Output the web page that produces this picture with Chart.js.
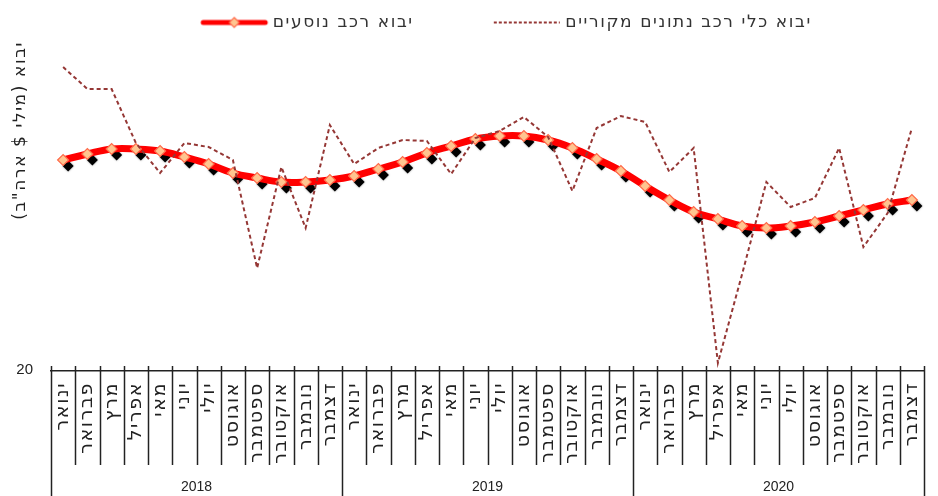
<!DOCTYPE html>
<html>
<head>
<meta charset="utf-8">
<script src="https://cdn.jsdelivr.net/npm/chart.js@4/dist/chart.umd.min.js"></script>
<style>
  html, body { margin: 0; padding: 0; background: #fff; overflow: hidden; }
  #wrap { width: 946px; height: 496px; }
</style>
</head>
<body>
<div id="wrap"><canvas id="chart"></canvas></div>
<script>
// --- data ---
const months = ['ינואר', 'פברואר', 'מרץ', 'אפריל', 'מאי', 'יוני', 'יולי', 'אוגוסט', 'ספטמבר', 'אוקטובר', 'נובמבר', 'דצמבר'];
const years = ['2018', '2019', '2020'];
const seriesNames = ['יבוא רכב נוסעים', 'יבוא כלי רכב נתונים מקוריים'];
const yTitle = 'יבוא (מילי $ ארה"ב)';
const yTickValues = [20];

// trend (smoothed) series
const passengerCars = [
  231, 237, 242, 242, 240, 234, 227, 218, 213, 209, 209, 211,
  215, 222, 229, 238, 245, 252, 255, 255, 251, 243, 232, 220,
  205, 191, 179, 172, 165, 163, 165, 169, 175, 181, 187, 191
];
// original data
const allVehiclesRaw = [
  324, 302, 302, 248, 218, 248, 244, 231, 123, 224, 163, 266,
  227, 243, 251, 250, 217, 253, 260, 274, 254, 200, 263, 275,
  269, 219, 243, 28, 117, 209, 184, 193, 243, 144, 178, 263
];

const labels = [];
years.forEach(() => months.forEach(m => labels.push(m)));

const HEB = "'DejaVu Sans', sans-serif";
const NUM = "'Liberation Sans', 'DejaVu Sans', sans-serif";
const RED = '#ff0000';
const DASH = '#953735';
const SPACING = '1.6px';   // wider Hebrew lettering like the original

// legend symbols (drawn as small canvases)
const BOX_W = 101, SHIFT = 38, EXTRA = 5;
function makeSymbol(kind) {
  const c = document.createElement('canvas');
  c.width = BOX_W + 2 * EXTRA; c.height = 16;
  const g = c.getContext('2d');
  const y = 8, x0 = EXTRA + SHIFT, x1 = c.width - 2;
  if (kind === 'red') {
    g.strokeStyle = RED; g.lineWidth = 5; g.lineCap = 'round';
    g.beginPath(); g.moveTo(x0 + 2, y); g.lineTo(x1 - 2, y); g.stroke();
    const cx = (x0 + x1) / 2, r = 5;
    g.beginPath();
    g.moveTo(cx, y - r); g.lineTo(cx + r, y); g.lineTo(cx, y + r); g.lineTo(cx - r, y); g.closePath();
    g.fillStyle = '#ffc590'; g.fill();
    g.strokeStyle = '#ff6a4a'; g.lineWidth = 1.2; g.stroke();
  } else {
    g.strokeStyle = DASH; g.lineWidth = 2; g.setLineDash([3, 2]);
    g.beginPath(); g.moveTo(x0, y); g.lineTo(x1, y); g.stroke();
  }
  return c;
}
const symRed = makeSymbol('red');
const symDash = makeSymbol('dash');

// black offset diamonds behind the trend markers + axis separators, years, y tick
const extrasPlugin = {
  id: 'extras',
  beforeUpdate(chart) { chart.ctx.letterSpacing = SPACING; },
  beforeDraw(chart) { chart.ctx.letterSpacing = SPACING; },
  beforeDatasetsDraw(chart) {
    const ctx = chart.ctx;
    const meta = chart.getDatasetMeta(0);
    ctx.save();
    ctx.fillStyle = '#000';
    ctx.shadowColor = 'rgba(0,0,0,0.5)';
    ctx.shadowBlur = 2;
    const r = 5.5;
    meta.data.forEach(pt => {
      const x = pt.x + 5, y = pt.y + 6;
      ctx.beginPath();
      ctx.moveTo(x, y - r); ctx.lineTo(x + r, y); ctx.lineTo(x, y + r); ctx.lineTo(x - r, y);
      ctx.closePath();
      ctx.fill();
    });
    ctx.restore();
  },
  afterDraw(chart) {
    const ctx = chart.ctx;
    const xs = chart.scales.x;
    const ys = chart.scales.y;
    const axisY = chart.chartArea.bottom;
    const n = labels.length;
    ctx.save();
    ctx.strokeStyle = '#222';
    ctx.lineWidth = 1.5;
    for (let i = 0; i <= n; i++) {
      const px = Math.round(xs.getPixelForValue(i - 0.5)) + 0.5;
      const yearEdge = (i % months.length === 0);
      ctx.beginPath();
      ctx.moveTo(px, axisY - 5);
      ctx.lineTo(px, yearEdge ? chart.height : axisY + 94);
      ctx.stroke();
    }
    ctx.letterSpacing = '0px';
    ctx.fillStyle = '#222';
    ctx.font = '14px ' + NUM;
    ctx.textBaseline = 'middle';
    ctx.textAlign = 'center';
    years.forEach((yr, k) => {
      const a = xs.getPixelForValue(k * 12 - 0.5);
      const b = xs.getPixelForValue(k * 12 + 11.5);
      ctx.fillText(yr, (a + b) / 2, 487);
    });
    ctx.font = '15px ' + NUM;
    ctx.textAlign = 'right';
    yTickValues.forEach(v => ctx.fillText(String(v), ys.right - 18, ys.getPixelForValue(v) - 1));
    ctx.restore();
  }
};

new Chart(document.getElementById('chart'), {
  type: 'line',
  data: {
    labels: labels,
    datasets: [
      {
        label: seriesNames[0],
        data: passengerCars,
        order: 1,
        borderColor: RED,
        borderWidth: 7,
        tension: 0.4,
        pointStyle: 'rectRot',
        pointRadius: 5.5,
        pointBackgroundColor: '#ffc590',
        pointBorderColor: '#ff6a4a',
        pointBorderWidth: 1.2
      },
      {
        label: seriesNames[1],
        data: allVehiclesRaw,
        order: 0,
        borderColor: DASH,
        borderWidth: 2,
        borderDash: [4, 3],
        pointRadius: 0,
        tension: 0
      }
    ]
  },
  options: {
    responsive: true,
    maintainAspectRatio: false,
    animation: false,
    events: [],
    layout: { padding: 0 },
    plugins: {
      tooltip: { enabled: false },
      legend: {
        position: 'top',
        fullSize: false,
        labels: {
          font: { family: HEB, size: 17 },
          color: '#333',
          usePointStyle: true,
          pointStyleWidth: BOX_W,
          padding: 14,
          generateLabels: () => [
            { text: seriesNames[0] + '    ', pointStyle: symRed, fontColor: '#333', hidden: false, datasetIndex: 0, lineWidth: 0 },
            { text: seriesNames[1], pointStyle: symDash, fontColor: '#333', hidden: false, datasetIndex: 1, lineWidth: 0 }
          ]
        }
      }
    },
    scales: {
      x: {
        type: 'category',
        offset: true,
        grid: { display: false, drawTicks: false },
        border: { display: true, color: '#222', width: 1.5 },
        ticks: {
          autoSkip: false,
          minRotation: 90,
          maxRotation: 90,
          padding: 11,
          color: '#222',
          font: { family: HEB, size: 19 }
        },
        afterFit: s => { s.height = 125; }
      },
      y: {
        min: 20,
        max: 350,
        grid: { display: false, drawTicks: false },
        border: { display: false },
        afterBuildTicks: s => { s.ticks = yTickValues.map(v => ({ value: v })); },
        ticks: { display: false },
        title: {
          display: true,
          text: yTitle,
          align: 'end',
          color: '#222',
          padding: { top: 10, bottom: 0 },
          font: { family: HEB, size: 17 }
        },
        afterFit: s => { s.width = 51; }
      }
    }
  },
  plugins: [extrasPlugin]
});
</script>
</body>
</html>
